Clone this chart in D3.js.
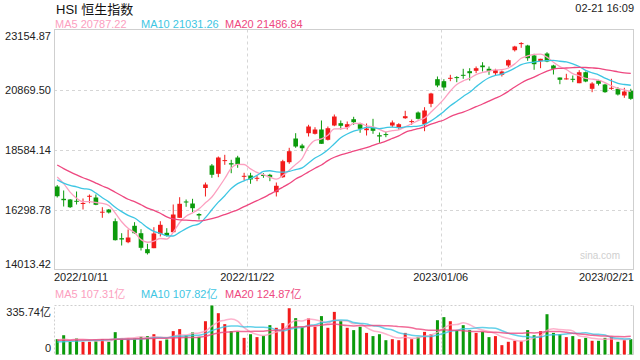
<!DOCTYPE html>
<html>
<head>
<meta charset="utf-8">
<script src="https://cdn.jsdelivr.net/npm/d3@7"></script>
<style>
body { margin: 0; background: #fff; }
text { font-family: "Liberation Sans", Arial, "Noto Sans CJK SC", sans-serif; }
</style>
</head>
<body>
<script>
// trading days shown
var dates = [
  "2022-10-11","2022-10-12","2022-10-13","2022-10-14","2022-10-17","2022-10-18","2022-10-19","2022-10-20","2022-10-21","2022-10-24",
  "2022-10-25","2022-10-26","2022-10-27","2022-10-28","2022-10-31","2022-11-01","2022-11-02","2022-11-03","2022-11-04","2022-11-07",
  "2022-11-08","2022-11-09","2022-11-10","2022-11-11","2022-11-14","2022-11-15","2022-11-16","2022-11-17","2022-11-18","2022-11-21",
  "2022-11-22","2022-11-23","2022-11-24","2022-11-25","2022-11-28","2022-11-29","2022-11-30","2022-12-01","2022-12-02","2022-12-05",
  "2022-12-06","2022-12-07","2022-12-08","2022-12-09","2022-12-12","2022-12-13","2022-12-14","2022-12-15","2022-12-16","2022-12-19",
  "2022-12-20","2022-12-21","2022-12-22","2022-12-23","2022-12-28","2022-12-29","2022-12-30","2023-01-03","2023-01-04","2023-01-05",
  "2023-01-06","2023-01-09","2023-01-10","2023-01-11","2023-01-12","2023-01-13","2023-01-16","2023-01-17","2023-01-18","2023-01-19",
  "2023-01-20","2023-01-26","2023-01-27","2023-01-30","2023-01-31","2023-02-01","2023-02-02","2023-02-03","2023-02-06","2023-02-07",
  "2023-02-08","2023-02-09","2023-02-10","2023-02-13","2023-02-14","2023-02-15","2023-02-16","2023-02-17","2023-02-20","2023-02-21"
];

var open = [
  17175,16706,16680,16630,16516,16794,16756,16188,16299,15853, 15206,15053,15678,15396,14787,14825,15373,15411,15434,15983,
  16604,16527,16127,17118,17975,17659,18150,18062,18279,17552, 17594,17476,17613,17620,16958,17529,18100,19003,18737,19205,
  19182,19346,18954,19498,19586,19434,19738,19548,19319,19411, 19129,19171,19498,19411,19776,19635,19993,19548,20325,21262,
  21186,21285,21342,21429,21567,21582,21784,21658,21490,21429, 21784,22366,22606,22545,22165,21947,22241,21784,21327,21262,
  21277,21109,21528,20896,21212,21060,20904,20896,20641,20820
];
var high = [
  17232,17023,16699,16984,16718,16870,16870,16386,16318,15956, 15396,15537,15815,15548,14992,15625,15853,15587,16489,16767,
  16680,16706,16158,17327,18032,18318,18382,18192,18344,17697, 17697,17594,17681,17658,17327,18192,18649,19205,18801,19525,
  19434,19689,19460,19917,19689,19651,19830,19601,19575,19753, 19232,19258,19689,19586,20058,19727,20032,20195,20744,21365,
  21262,21429,21376,21658,21681,21746,21909,21746,21658,21593, 22012,22534,22671,22572,22229,22039,22290,21810,21327,21468,
  21403,21605,21555,21148,21239,21087,21277,20957,20934,20896
];
var low = [
  16756,16413,16356,16489,16299,16539,16463,15983,16146,15118, 14928,15015,15373,14737,14585,14825,15270,15270,15434,15983,
  16402,16196,15918,16794,17506,17529,18001,17681,17887,17403, 17278,17377,17506,17377,16794,17506,18039,18649,18519,19079,
  19156,18801,18927,19472,19346,19346,19525,19220,19117,19182, 18839,19053,19434,19335,19753,19525,19727,19281,20195,20957,
  20831,21186,21148,21277,21212,21490,21555,21429,21403,21365, 21719,22317,22458,21963,21620,21681,21909,21441,21071,21250,
  21148,21109,21148,20767,21022,20744,20858,20641,20553,20477
];
var close = [
  16805,16653,16386,16592,16546,16821,16478,16215,16185,15130, 15156,15232,15396,14840,14634,15385,15716,15297,16108,16516,
  16573,16348,16070,17251,17621,18279,18180,18013,18013,17582, 17442,17506,17582,17529,17202,18138,18519,18698,18634,19460,
  19346,18801,19395,19841,19487,19548,19624,19373,19384,19296, 19079,19140,19613,19548,19853,19666,19753,20070,20717,21022,
  20946,21315,21311,21391,21490,21681,21719,21574,21605,21555, 21986,22507,22637,22062,21833,22039,21936,21658,21239,21292,
  21247,21528,21174,21098,21087,20767,20934,20679,20793,20515
];

// turnover, 亿
var volume = [
  105,132,87,110,87,87,91,105,87,153, 110,110,110,121,126,139,94,103,160,174,
  132,151,121,228,335.7,283,208,160,155,114, 139,119,128,201,183,215,317,249,187,247,
  190,263,183,292,231,183,167,190,148,126, 139,98,105,98,148,105,121,155,139,235,
  256,228,167,201,167,148,155,119,126,64, 87,94,91,167,132,160,276,148,139,119,
  126,105,114,94,94,114,121,87,98,105
];

var ma5 = [
  17535,17285,16960,16731,16596,16600,16565,16530,16449,16166, 15833,15584,15420,15151,15052,15097,15194,15174,15428,15804,
  16042,16168,16323,16552,16773,17114,17480,17869,18021,18013, 17846,17711,17625,17528,17452,17591,17794,18017,18238,18690,
  18931,18988,19127,19369,19374,19414,19579,19575,19483,19445, 19351,19254,19302,19335,19447,19564,19687,19778,20012,20246,
  20502,20814,21062,21197,21291,21438,21518,21571,21614,21627, 21688,21845,22058,22149,22205,22216,22101,21906,21741,21633,
  21474,21393,21296,21268,21227,21131,21012,20913,20852,20787
];
var ma10 = [
  17425,17305,17218,17161,17093,17068,16925,16745,16590,16381, 16216,16074,15975,15800,15609,15465,15389,15297,15289,15428,
  15570,15681,15749,15990,16289,16578,16824,17096,17286,17393, 17480,17596,17747,17775,17733,17719,17753,17821,17883,18071,
  18261,18391,18572,18803,19032,19173,19283,19351,19426,19410, 19383,19417,19439,19409,19446,19458,19471,19540,19674,19846,
  20033,20250,20420,20604,20768,20970,21166,21317,21405,21459, 21563,21682,21815,21882,21916,21952,21973,21982,21945,21919,
  21845,21747,21601,21504,21430,21303,21202,21105,21060,21031
];
var ma20 = [
  17992,17858,17735,17619,17508,17421,17305,17194,17096,16956, 16821,16689,16597,16480,16351,16266,16157,16021,15940,15905,
  15893,15878,15862,15895,15949,16022,16107,16197,16288,16411, 16525,16639,16748,16882,17011,17148,17288,17459,17585,17732,
  17871,17993,18160,18289,18382,18446,18518,18586,18655,18740, 18822,18904,19005,19106,19239,19315,19377,19446,19550,19628,
  19708,19834,19929,20007,20107,20214,20318,20428,20539,20652, 20798,20966,21117,21243,21342,21461,21570,21649,21675,21689,
  21704,21715,21708,21693,21673,21627,21588,21543,21503,21487
];

var volMa5 = [
  100,104,100,104,104,101,92,96,91,105, 109,113,114,121,115,121,118,117,124,134,
  133,144,148,161,194,224,235,243,228,184, 155,137,131,140,154,169,209,233,230,243,
  238,227,214,235,232,230,211,213,184,163, 154,140,123,113,118,111,115,125,134,151,
  181,203,205,217,204,182,168,158,143,122, 110,98,92,101,114,129,165,177,171,168,
  162,127,121,112,107,104,107,102,103,107
];
var volMa10 = [
  86,88,90,93,95,96,97,99,101,104, 105,103,105,106,110,115,116,115,123,125,
  127,131,132,143,164,178,190,195,195,189, 190,186,187,184,169,162,173,182,185,199,
  204,218,224,233,237,234,219,213,209,197, 192,176,168,149,140,132,128,124,123,134,
  146,159,165,176,177,182,185,182,180,163, 146,133,125,122,118,120,132,135,136,141,
  145,146,149,141,138,133,117,111,107,108
];
var volMa20 = [
  97,98,98,99,100,100,101,102,103,104, 105,106,107,108,109,110,111,112,113,115,
  116,117,119,125,137,147,153,155,159,157, 158,159,160,164,166,170,181,189,190,194,
  197,202,205,209,203,198,196,198,197,198, 198,197,196,191,189,183,174,169,166,166,
  169,167,167,162,159,157,157,153,152,149, 146,146,145,149,148,151,158,158,158,152,
  146,140,137,132,128,126,125,123,122,125
];

var priceTicks = [23154.87, 20869.50, 18584.14, 16298.78, 14013.42];
var priceTickLabels = ["23154.87", "20869.50", "18584.14", "16298.78", "14013.42"];
var volTicks = [335.74, 0];
var volTickLabels = ["335.74亿", "0"];
var xTickDates = ["2022-10-11", "2022-11-22", "2023-01-06", "2023-02-21"];
var xTickLabels = ["2022/10/11", "2022/11/22", "2023/01/06", "2023/02/21"];
var maNames = ["MA5", "MA10", "MA20"];
var maLegend = ["20787.22", "21031.26", "21486.84"];
var volLegend = ["107.31亿", "107.82亿", "124.87亿"];

var upColor = "#f21b1b", downColor = "#0b9a0b";
var maColors = ["#fca0c0", "#3ec6e3", "#ee4880"];

var svg = d3.select("body").append("svg")
    .attr("width", 640)
    .attr("height", 360);

// note: "top" is taken by window.top, so plot edges get their own names
var pLeft = 54, pRight = 634,
    pTop = 29.5, pBottom = 269.5,
    vTop = 305.5, vBottom = 354.5;

var x = d3.scaleBand().domain(dates).range([pLeft, pRight]);
var bw = x.bandwidth();
function cx(i) { return x(dates[i]) + bw / 2; }

var y = d3.scaleLinear().domain([priceTicks[4], priceTicks[0]]).range([pBottom, pTop]);
var yv = d3.scaleLinear().domain([0, volTicks[0]]).range([vBottom, vTop]);

// header
svg.append("text").attr("x", 56).attr("y", 14)
    .style("font-size", "13px").attr("fill", "#111")
    .text("HSI 恒生指数");
svg.append("text").attr("x", 634).attr("y", 12)
    .attr("text-anchor", "end").style("font-size", "11px").attr("fill", "#222")
    .text("02-21 16:09");

var legX = [55, 141, 225];
maNames.forEach(function(n, k) {
  svg.append("text").attr("x", legX[k]).attr("y", 28)
      .style("font-size", "11px").attr("fill", maColors[k])
      .text(n + " " + maLegend[k]);
  svg.append("text").attr("x", legX[k]).attr("y", 298)
      .style("font-size", "11px").attr("fill", maColors[k])
      .text(n + " " + volLegend[k]);
});

// grid
var g = svg.append("g");
g.selectAll(".hgrid").data(priceTicks.slice(1, 4)).enter().append("line")
    .attr("x1", pLeft).attr("x2", pRight)
    .attr("y1", function(d) { return Math.round(y(d)) + 0.5; })
    .attr("y2", function(d) { return Math.round(y(d)) + 0.5; })
    .attr("stroke", "#d6d6d6").attr("stroke-dasharray", "3,3");

var vgrid = [xTickDates[1], xTickDates[2]];
g.selectAll(".vgrid").data(vgrid).enter().append("line")
    .attr("x1", function(d) { return Math.round(x(d)) + 0.5; })
    .attr("x2", function(d) { return Math.round(x(d)) + 0.5; })
    .attr("y1", pTop).attr("y2", pBottom)
    .attr("stroke", "#d6d6d6").attr("stroke-dasharray", "3,3");
g.selectAll(".vgrid2").data(vgrid).enter().append("line")
    .attr("x1", function(d) { return Math.round(x(d)) + 0.5; })
    .attr("x2", function(d) { return Math.round(x(d)) + 0.5; })
    .attr("y1", vTop).attr("y2", vBottom)
    .attr("stroke", "#d6d6d6").attr("stroke-dasharray", "2,2");

// frames
svg.append("rect").attr("x", pLeft + 0.5).attr("y", pTop).attr("width", pRight - pLeft - 1).attr("height", pBottom - pTop)
    .attr("fill", "none").attr("stroke", "#cfcfcf");
svg.append("rect").attr("x", pLeft + 0.5).attr("y", vTop).attr("width", pRight - pLeft - 1).attr("height", vBottom - vTop)
    .attr("fill", "none").attr("stroke", "#cfcfcf").attr("stroke-dasharray", "2,2");
svg.append("line").attr("x1", pRight - 0.5).attr("x2", pRight - 0.5).attr("y1", vTop).attr("y2", vBottom)
    .attr("stroke", "#cfcfcf");

// watermark
svg.append("text").attr("x", 600).attr("y", 259).attr("text-anchor", "middle")
    .style("font-size", "10px").attr("fill", "#cfcfcf").text("sina.com");

// y labels
svg.selectAll(".ylab").data(priceTicks).enter().append("text")
    .attr("x", 51).attr("text-anchor", "end")
    .attr("y", function(d, i) {
      if (i == 0) return pTop + 10;
      if (i == priceTicks.length - 1) return pBottom - 2;
      return y(d) + 4;
    })
    .style("font-size", "11px").attr("fill", "#222")
    .text(function(d, i) { return priceTickLabels[i]; });

svg.selectAll(".vlab").data(volTicks).enter().append("text")
    .attr("x", 51).attr("text-anchor", "end")
    .attr("y", function(d, i) { return i == 0 ? vTop + 10 : vBottom - 3; })
    .style("font-size", "11px").attr("fill", "#222")
    .text(function(d, i) { return volTickLabels[i]; });

// x labels
svg.selectAll(".xlab").data(xTickDates).enter().append("text")
    .attr("x", function(d, i) {
      if (i == 0) return pLeft;
      if (i == xTickDates.length - 1) return pRight;
      return x(d);
    })
    .attr("y", 281)
    .attr("text-anchor", function(d, i) { return i == 0 ? "start" : (i == xTickDates.length - 1 ? "end" : "middle"); })
    .style("font-size", "11px").attr("fill", "#222")
    .text(function(d, i) { return xTickLabels[i]; });

// candles
var idx = d3.range(dates.length);
function col(i) { return close[i] >= open[i] ? upColor : downColor; }
var bodyW = bw * 0.72;

var candle = svg.append("g").selectAll(".candle").data(idx).enter().append("g");
candle.append("line")
    .attr("x1", cx).attr("x2", cx)
    .attr("y1", function(i) { return y(high[i]); })
    .attr("y2", function(i) { return y(low[i]); })
    .attr("stroke", col).attr("stroke-width", 1);
candle.append("rect")
    .attr("x", function(i) { return cx(i) - bodyW / 2; })
    .attr("width", bodyW)
    .attr("y", function(i) { return y(Math.max(open[i], close[i])); })
    .attr("height", function(i) { return Math.max(1, Math.abs(y(open[i]) - y(close[i]))); })
    .attr("fill", col);

// volume bars
svg.append("g").selectAll(".vol").data(idx).enter().append("rect")
    .attr("x", function(i) { return cx(i) - 1.5; })
    .attr("width", 3)
    .attr("y", function(i) { return yv(volume[i]); })
    .attr("height", function(i) { return vBottom - yv(volume[i]); })
    .attr("fill", col);

// moving average lines
var priceLine = d3.line()
    .curve(d3.curveMonotoneX)
    .x(function(d, i) { return cx(i); })
    .y(function(d) { return y(d); });
var volLine = d3.line()
    .curve(d3.curveMonotoneX)
    .x(function(d, i) { return cx(i); })
    .y(function(d) { return yv(d); });

[ma5, ma10, ma20].forEach(function(s, k) {
  svg.append("path").attr("d", priceLine(s))
      .attr("fill", "none").attr("stroke", maColors[k]).attr("stroke-width", 1.3);
});
[volMa5, volMa10, volMa20].forEach(function(s, k) {
  svg.append("path").attr("d", volLine(s))
      .attr("fill", "none").attr("stroke", maColors[k]).attr("stroke-width", 1.5)
      .attr("stroke-opacity", 0.8);
});
</script>
</body>
</html>
